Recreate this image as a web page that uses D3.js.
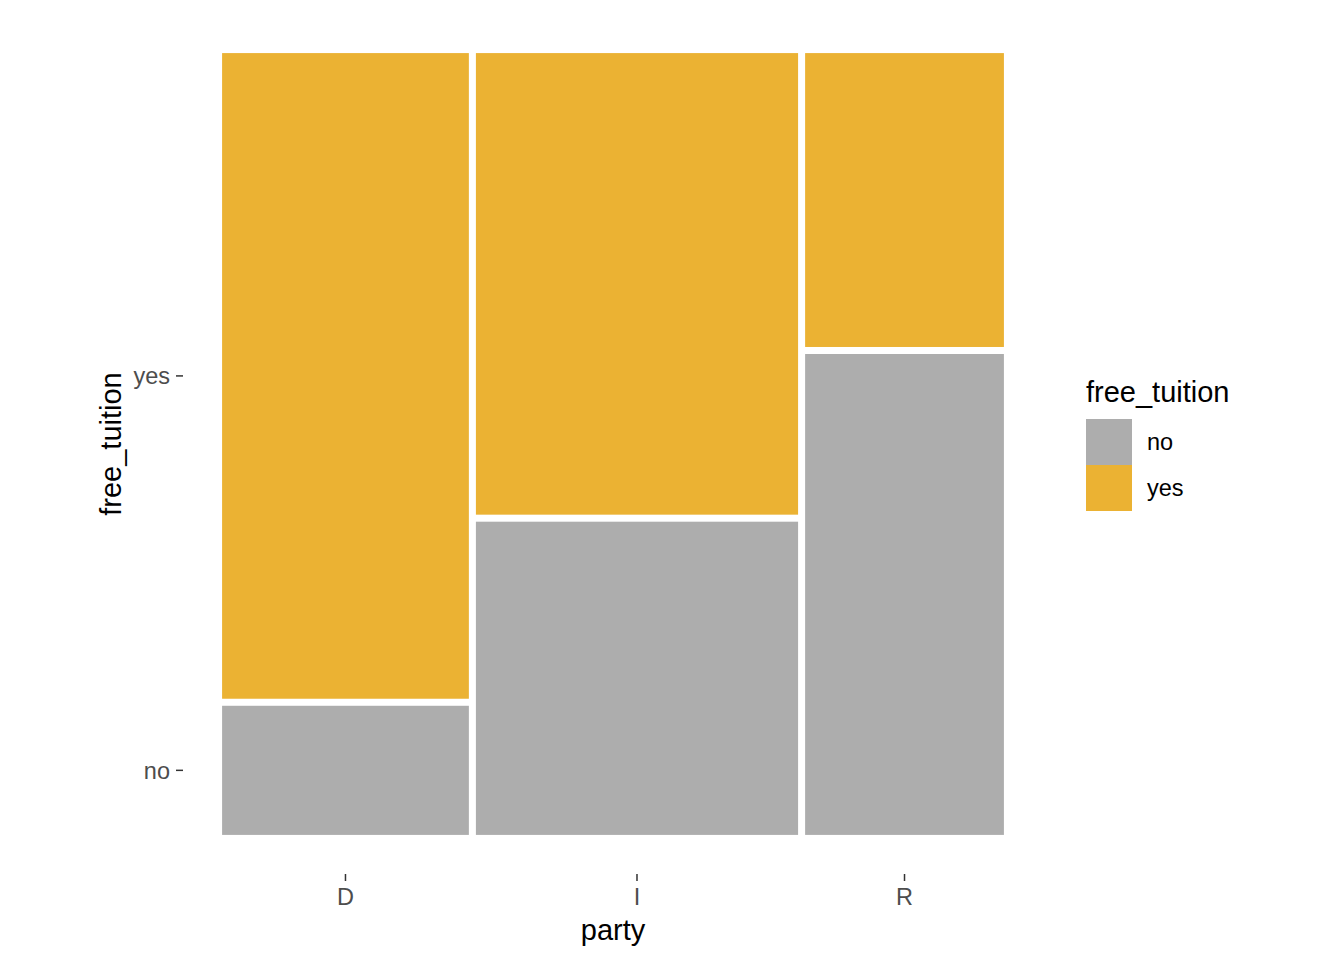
<!DOCTYPE html>
<html><head><meta charset="utf-8">
<script src="https://cdn.jsdelivr.net/npm/d3@7"></script>
<style>body{margin:0;background:#fff}svg{display:block}text{font-family:"Liberation Sans",Arial,sans-serif}</style>
</head><body>
<svg id="c" width="1344" height="960"></svg>
<script>
const parties = ["D", "I", "R"];
const levels = ["no", "yes"];
const noCounts = [6, 19, 18];
const yesCounts = [30, 28, 11];
const colors = ["#adadad", "#ebb233"];

const svg = d3.select("#c");
const panel = {l: 183, r: 1043, t: 14, b: 874};
const offset = 0.009;
const x = d3.scaleLinear().domain([-0.05, 1.05]).range([panel.l, panel.r]);
const y = d3.scaleLinear().domain([-0.05, 1.05]).range([panel.b, panel.t]);

const totals = parties.map((p, i) => noCounts[i] + yesCounts[i]);
const N = d3.sum(totals);
const nGap = parties.length - 1;
const avail = 1 - offset * nGap;
let cx = 0;
const cells = [];
const colCenters = [];
parties.forEach((p, i) => {
  const w = totals[i] / N * avail;
  const vals = [noCounts[i], yesCounts[i]];
  const h = 1 - offset;
  let cy = 0;
  vals.forEach((v, j) => {
    const hh = v / totals[i] * h;
    cells.push({p, lvl: levels[j], x0: cx, x1: cx + w, y0: cy, y1: cy + hh, col: i});
    cy += hh + offset;
  });
  colCenters.push(cx + w / 2);
  cx += w + offset;
});

svg.append("g").selectAll("rect").data(cells).join("rect")
  .attr("x", d => x(d.x0)).attr("width", d => x(d.x1) - x(d.x0))
  .attr("y", d => y(d.y1)).attr("height", d => y(d.y0) - y(d.y1))
  .attr("fill", d => colors[levels.indexOf(d.lvl)]);

// axes
const ga = svg.append("g").attr("transform", `translate(0,${panel.b})`);
parties.forEach((p, i) => {
  const px = x(colCenters[i]);
  ga.append("line").attr("x1", px).attr("x2", px).attr("y1", 0).attr("y2", 7).attr("stroke", "#333").attr("stroke-width", 1.5);
  ga.append("text").attr("x", px).attr("y", 31).attr("text-anchor", "middle").attr("fill", "#4d4d4d").attr("font-size", 23.5).text(p);
});
const firstCol = cells.filter(d => d.col === 0);
const gy = svg.append("g").attr("transform", `translate(${panel.l},0)`);
firstCol.forEach(d => {
  const py = y((d.y0 + d.y1) / 2);
  gy.append("line").attr("x1", -7).attr("x2", 0).attr("y1", py).attr("y2", py).attr("stroke", "#333").attr("stroke-width", 1.5);
  gy.append("text").attr("x", -13).attr("y", py).attr("dy", "0.35em").attr("text-anchor", "end").attr("fill", "#4d4d4d").attr("font-size", 23.5).text(d.lvl);
});

svg.append("text").attr("x", (panel.l + panel.r) / 2).attr("y", 940).attr("text-anchor", "middle").attr("font-size", 29).attr("fill", "#000").text("party");
svg.append("text").attr("transform", `translate(121,${(panel.t + panel.b) / 2}) rotate(-90)`).attr("text-anchor", "middle").attr("font-size", 29).attr("fill", "#000").text("free_tuition");

// legend
const lg = svg.append("g").attr("transform", "translate(1086,0)");
lg.append("text").attr("x", 0).attr("y", 402).attr("font-size", 29).text("free_tuition");
levels.forEach((l, i) => {
  lg.append("rect").attr("x", 0).attr("y", 419 + i * 46).attr("width", 46).attr("height", 46).attr("fill", colors[i]);
  lg.append("text").attr("x", 61).attr("y", 419 + i * 46 + 23).attr("dy", "0.35em").attr("font-size", 23.5).text(l);
});
</script>
</body></html>
